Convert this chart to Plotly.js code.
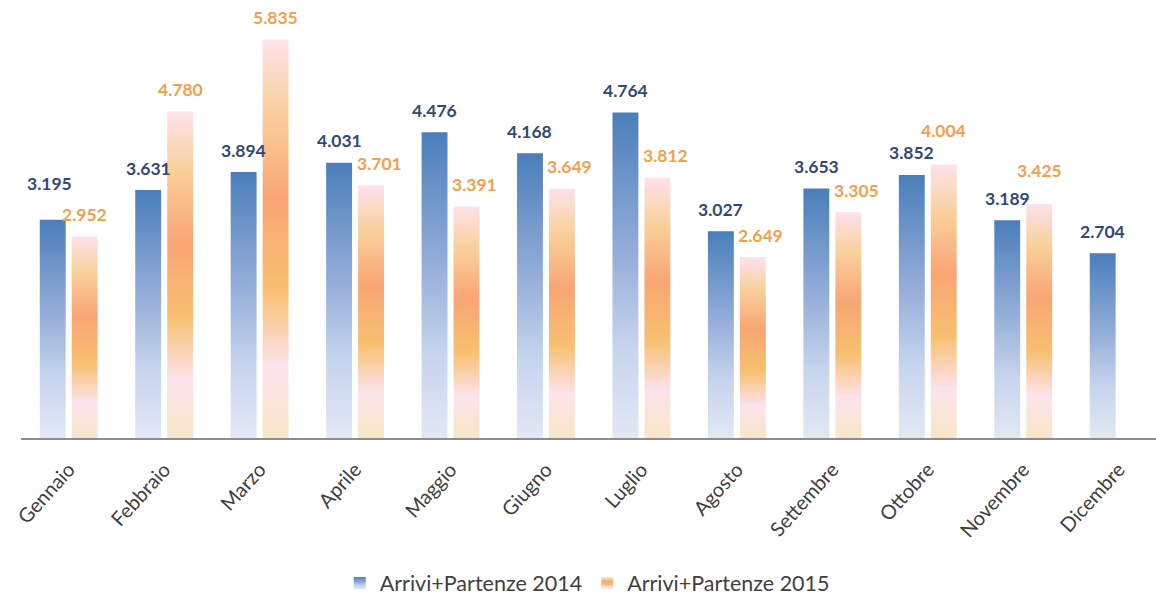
<!DOCTYPE html>
<html>
<head>
<meta charset="utf-8">
<script src="https://cdn.plot.ly/plotly-3.0.1.min.js"></script>
<style>html,body{margin:0;padding:0;background:#fff;}#chart{width:1156px;height:599px;}</style>
</head>
<body>
<div id="chart"></div>
<script>
const months = ["Gennaio","Febbraio","Marzo","Aprile","Maggio","Giugno","Luglio","Agosto","Settembre","Ottobre","Novembre","Dicembre"];
const series2014 = [3.195,3.631,3.894,4.031,4.476,4.168,4.764,3.027,3.653,3.852,3.189,2.704];
const series2015 = [2.952,4.780,5.835,3.701,3.391,3.649,3.812,2.649,3.305,4.004,3.425,null];
const seriesNames = ["Arrivi+Partenze 2014","Arrivi+Partenze 2015"];

const FONT = "Lato, 'Liberation Sans', sans-serif";
const blueLabel = "#2f4a78";
const orangeLabel = "#f5a04c";

const traces = [
  {type:"bar", name:seriesNames[0], x:months, y:series2014, marker:{color:"#7f9fd0"}, hoverinfo:"x+y"},
  {type:"bar", name:seriesNames[1], x:months, y:series2015, marker:{color:"#f9b47a"}, hoverinfo:"x+y"}
];

const fmt = v => v.toFixed(3);
const annotations = [];
series2014.forEach((v,i)=>{
  if(v==null) return;
  annotations.push({x:months[i], y:v, xref:"x", yref:"y", text:"<b>"+fmt(v)+"</b>", showarrow:false,
    xshift:-16 + (i===0 ? -3 : 0), yshift: i===0 ? 36 : 22, yanchor:"middle",
    font:{family:FONT, size:17.5, color:blueLabel}});
});
series2015.forEach((v,i)=>{
  if(v==null) return;
  const pushRight = (series2014[i] > v && i!==0) ? 8 : 0;
  // raise the label when it would collide with the neighbouring 2014 label
  const near = series2014[i]!=null && v > series2014[i] && (v - series2014[i])*68.3 < 20;
  annotations.push({x:months[i], y:v, xref:"x", yref:"y", text:"<b>"+fmt(v)+"</b>", showarrow:false,
    xshift:16 + pushRight, yshift: near ? 34 : 22, yanchor:"middle",
    font:{family:FONT, size:17.5, color:orangeLabel}});
});

const plotW = 1156 - 21 - 0;
const layout = {
  width:1156, height:599,
  margin:{l:21, r:0, t:10, b:161, autoexpand:false},
  paper_bgcolor:"#ffffff", plot_bgcolor:"#ffffff",
  font:{family:FONT, color:"#404040"},
  barmode:"group", bargap:0.33, bargroupgap:0.19,
  showlegend:true,
  legend:{orientation:"h", x:0.508, xanchor:"center", xref:"container", y:16/599, yref:"container", yanchor:"middle",
    font:{family:FONT, size:21.5, color:"#404040"}, itemwidth:30, traceorder:"normal"},
  xaxis:{type:"category", range:[-0.5, -0.5 + plotW/95.45], showline:true, linecolor:"#8c8c8c", linewidth:2,
    ticks:"", tickangle:-48, tickfont:{family:FONT, size:20, color:"#404040"}, ticklabelstandoff:10,
    showgrid:false, zeroline:false, fixedrange:true, automargin:false},
  yaxis:{range:[0, 428/68.3], visible:false, showgrid:false, zeroline:false, fixedrange:true, automargin:false},
  annotations:annotations
};

const gradients = {
  g2014:[[0,"#4a7ebb"],[0.45,"#98b0da"],[0.72,"#c6d4ed"],[1,"#e2e8f4"]],
  g2015:[[0,"#fde2ea"],[0.18,"#f9d09b"],[0.4,"#f9a574"],[0.63,"#f8c070"],[0.82,"#fce3ec"],[1,"#f8e6c6"]]
};
const NS = "http://www.w3.org/2000/svg";
function ensureDefs(svg){
  let defs = svg.querySelector("defs");
  if(!defs){ defs = document.createElementNS(NS,"defs"); svg.insertBefore(defs, svg.firstChild); }
  Object.keys(gradients).forEach(id=>{
    if(defs.querySelector("#"+id)) return;
    const lg = document.createElementNS(NS,"linearGradient");
    lg.setAttribute("id",id); lg.setAttribute("x1","0"); lg.setAttribute("y1","0");
    lg.setAttribute("x2","0"); lg.setAttribute("y2","1");
    gradients[id].forEach(([o,c])=>{
      const s = document.createElementNS(NS,"stop");
      s.setAttribute("offset",o); s.setAttribute("stop-color",c);
      lg.appendChild(s);
    });
    defs.appendChild(lg);
  });
}
function applyGradients(gd){
  const svgs = gd.querySelectorAll("svg.main-svg");
  svgs.forEach(ensureDefs);
  const ids = ["g2014","g2015"];
  gd.querySelectorAll(".barlayer .trace").forEach((t,i)=>{
    t.querySelectorAll("path").forEach(p=>{ p.style.fill = "url(#"+ids[i]+")"; });
  });
  gd.querySelectorAll(".legend .traces").forEach((t,i)=>{
    t.querySelectorAll(".legendpoints path").forEach(p=>{ p.style.fill = "url(#"+ids[i]+")"; });
  });
}
const gd = document.getElementById("chart");
Plotly.newPlot(gd, traces, layout, {displayModeBar:false, staticPlot:false}).then(()=>{
  applyGradients(gd);
  gd.on("plotly_afterplot", ()=>applyGradients(gd));
});
</script>
</body>
</html>
